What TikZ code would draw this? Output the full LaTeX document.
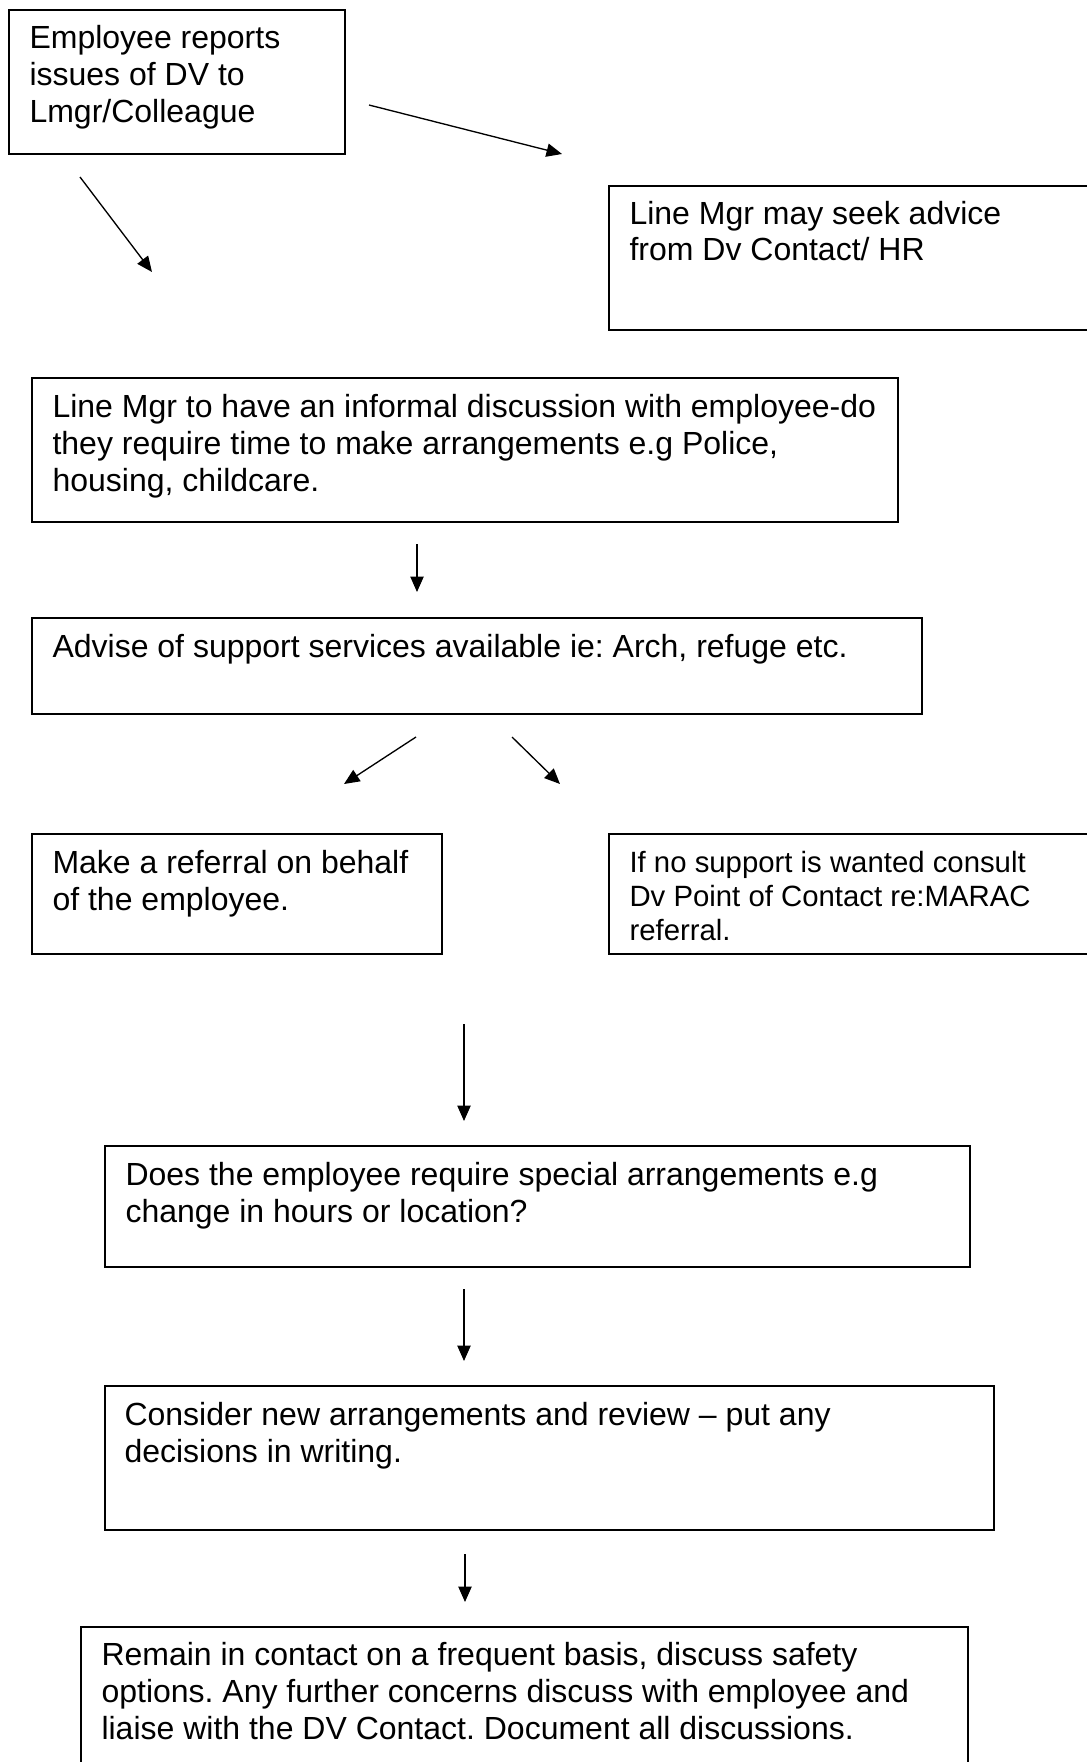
\documentclass[tikz,border=0pt]{standalone}
\usepackage{fontspec}
\setmainfont{Liberation Sans}
\usetikzlibrary{arrows.meta,calc}
\frenchspacing
\begin{document}
\frenchspacing
\begin{tikzpicture}[x=0.375pt,y=-0.375pt,
  box/.style={draw=black, line width=0.65pt, inner sep=0pt, anchor=north west},
  boxsize/.style 2 args={minimum width=#1*0.375pt, minimum height=#2*0.375pt},
  txt/.style={inner sep=0pt, anchor=base west, font=\fontsize{12}{13.875}\selectfont},
  smalltxt/.style={inner sep=0pt, anchor=base west, font=\fontsize{11}{12.75}\selectfont},
  arr/.style={line width=0.5pt, -{Triangle[length=5.8pt,width=5pt]}}]
\fill[white] (0,0) rectangle (1087,1762);
\useasboundingbox (0,0) rectangle (1087,1762);

% boxes
\node[box, boxsize={336}{144}] (b1) at (8,9) {};
\node[box, boxsize={492}{144}] (b2) at (608,185) {};
\node[box, boxsize={866}{144}] (b3) at (31,377) {};
\node[box, boxsize={890}{96}]  (b4) at (31,617) {};
\node[box, boxsize={410}{120}] (b5) at (31,833) {};
\node[box, boxsize={492}{120}] (b6) at (608,833) {};
\node[box, boxsize={865}{121}] (b7) at (104,1145) {};
\node[box, boxsize={889}{144}] (b8) at (104,1385) {};
\node[box, boxsize={887}{160}] (b9) at (80,1626) {};

% texts
\node[txt] (t1) at ($(b1.north west)+(21,40)$) {\parbox[t]{380pt}{Employee reports\\issues of DV to\\Lmgr/Colleague}};
\node[txt] (t2) at ($(b2.north west)+(21,39)$) {\parbox[t]{380pt}{Line Mgr may seek advice\\from Dv Contact/ HR}};
\node[txt] (t3) at ($(b3.north west)+(21,40)$) {\parbox[t]{380pt}{Line Mgr to have an informal discussion with employee-do\\they require time to make arrangements e.g Police,\\housing, childcare.}};
\node[txt] (t4) at ($(b4.north west)+(21,40)$) {\parbox[t]{380pt}{Advise of support services available ie: Arch, refuge etc.}};
\node[txt] (t5) at ($(b5.north west)+(21,40)$) {\parbox[t]{380pt}{Make a referral on behalf\\of the employee.}};
\node[smalltxt] (t6) at ($(b6.north west)+(21,39)$) {\parbox[t]{380pt}{If no support is wanted consult\\Dv Point of Contact re:MARAC\\referral.}};
\node[txt] (t7) at ($(b7.north west)+(21,40)$) {\parbox[t]{380pt}{Does the employee require special arrangements e.g\\change in hours or location?}};
\node[txt] (t8) at ($(b8.north west)+(20,40)$) {\parbox[t]{380pt}{Consider new arrangements and review -- put any\\decisions in writing.}};
\node[txt] (t9) at ($(b9.north west)+(21,39)$) {\parbox[t]{380pt}{Remain in contact on a frequent basis, discuss safety\\options. Any further concerns discuss with employee and\\liaise with the DV Contact. Document all discussions.}};

% arrow end points
\coordinate (a1s) at (369,105);  \coordinate (a1e) at (562,154);
\coordinate (a2s) at (80,177);   \coordinate (a2e) at (152,272);
\coordinate (a3s) at (417,544);  \coordinate (a3e) at (417,592);
\coordinate (a4s) at (416,737);  \coordinate (a4e) at (344,784);
\coordinate (a5s) at (512,737);  \coordinate (a5e) at (560,784);
\coordinate (a6s) at (464,1024); \coordinate (a6e) at (464,1121);
\coordinate (a7s) at (464,1289); \coordinate (a7e) at (464,1361);
\coordinate (a8s) at (465,1554); \coordinate (a8e) at (465,1602);

\draw[arr] (a1s) -- (a1e);
\draw[arr] (a2s) -- (a2e);
\draw[arr] (a3s) -- (a3e);
\draw[arr] (a4s) -- (a4e);
\draw[arr] (a5s) -- (a5e);
\draw[arr] (a6s) -- (a6e);
\draw[arr] (a7s) -- (a7e);
\draw[arr] (a8s) -- (a8e);
\end{tikzpicture}
\end{document}
